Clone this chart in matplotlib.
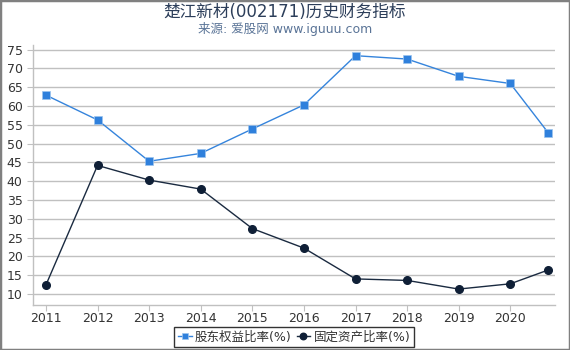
import matplotlib
matplotlib.use("Agg")
import matplotlib.pyplot as plt
from matplotlib.patches import Rectangle

plt.rcParams['font.family'] = ['DejaVu Sans', 'Noto Sans CJK SC']

x_pos = [2011, 2012, 2013, 2014, 2015, 2016, 2017, 2018, 2019, 2020, 2020.74]
equity_ratio = [62.9, 56.3, 45.3, 47.4, 53.9, 60.3, 73.4, 72.5, 67.9, 66.0, 52.8]
fixed_asset_ratio = [12.4, 44.2, 40.3, 37.9, 27.4, 22.2, 14.0, 13.6, 11.3, 12.7, 16.4]
year_ticks = [2011, 2012, 2013, 2014, 2015, 2016, 2017, 2018, 2019, 2020]
y_ticks = list(range(10, 80, 5))

fig = plt.figure(figsize=(5.7, 3.5), dpi=100)
ax = fig.add_axes([0.058, 0.129, 0.916, 0.742])

ax.plot(x_pos, equity_ratio, color='#3584dc', linewidth=1.0, marker='s',
        markersize=5.5, markerfacecolor='#2f80dc', markeredgecolor='#9cc4ee',
        markeredgewidth=0.5, label='股东权益比率(%)', zorder=3)
ax.plot(x_pos, fixed_asset_ratio, color='#1a2a40', linewidth=1.0, marker='o',
        markersize=5.5, markerfacecolor='#0f1f36', markeredgecolor='#0f1f36',
        label='固定资产比率(%)', zorder=3)

ax.set_xlim(2010.75, 2020.87)
ax.set_ylim(7.1, 76.2)
ax.set_xticks(year_ticks)
ax.set_xticklabels([str(y) for y in year_ticks])
ax.set_yticks(y_ticks)
ax.grid(axis='y', color='#c0c0c0', linewidth=1.0)
ax.set_axisbelow(True)
for s in ['top', 'right']:
    ax.spines[s].set_visible(False)
for s in ['left', 'bottom']:
    ax.spines[s].set_color('#c0c0c0')
    ax.spines[s].set_linewidth(1.0)
ax.tick_params(axis='both', colors='#c0c0c0', labelcolor='#333333',
               labelsize=9, length=4)
ax.tick_params(axis='x', pad=1)

fig.text(0.5, 0.965, '楚江新材(002171)历史财务指标', ha='center', va='center',
         fontsize=12, color='#2c3e5a')
fig.text(0.5, 0.918, '来源: 爱股网 www.iguuu.com', ha='center', va='center',
         fontsize=9, color='#5a7497')

leg = ax.legend(loc='center', bbox_to_anchor=(0.5, -0.123), ncol=2,
                fontsize=9, frameon=True, fancybox=False, handlelength=1.1,
                handletextpad=0.25, columnspacing=0.4, borderpad=0.3,
                borderaxespad=0, markerscale=0.85)
leg.get_frame().set_edgecolor('#000000')
leg.get_frame().set_linewidth(1.0)
for t in leg.get_texts():
    t.set_color('#333333')

fig.patches.append(Rectangle((0, 0), 1, 1, transform=fig.transFigure,
                             fill=False, edgecolor='#808080', linewidth=2.5))

fig.savefig('out.png', dpi=100)
